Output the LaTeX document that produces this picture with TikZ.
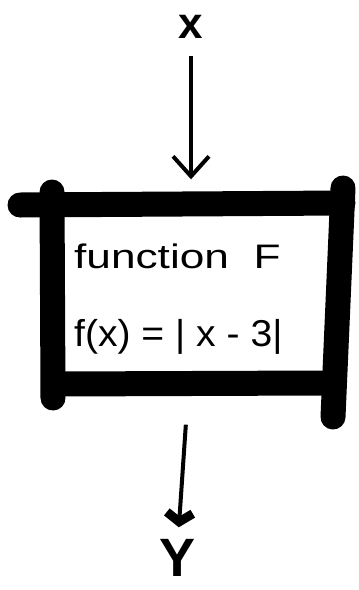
\documentclass[tikz,border=0pt]{standalone}
\usepackage{fontspec}
\setmainfont{Liberation Sans}
\usetikzlibrary{arrows.meta}
\tikzset{
  bar/.style={line width=25pt, line cap=round, line join=round, black},
  handtext/.style={anchor=west, inner sep=0pt, font=\fontsize{34}{38}\selectfont},
  thinarrow/.style={line width=3.5pt, -{Straight Barb[length=20pt,width=36pt,line width=4pt]}},
  thickarrow/.style={line width=4pt, -{Straight Barb[length=9pt,width=26pt,line width=9pt]}}
}
\begin{document}
\begin{tikzpicture}[x=1pt,y=-1pt]
\useasboundingbox (0,0) rectangle (359,590);
% frame
\draw[bar] (20,205) -- (343,203);
\draw[bar] (52,192) -- (53,398);
\draw[bar] (343,188) -- (333,417);
\draw[bar] (58,384) -- (322,383);
\node[minimum width=300pt, minimum height=215pt, inner sep=0pt] (fbox) at (190,300) {};
% texts
\node[handtext] (t1) at (74,256) {\scalebox{1.3}[1]{function\ \ F}};
\node[handtext] (t2) at (74,337) {\scalebox{1.15}[1.1]{f(x) = | x - 3|}};
\node[inner sep=0pt, font=\fontsize{44}{44}\bfseries\selectfont] (xin) at (191,27) {x};
\node[inner sep=0pt, font=\fontsize{54}{54}\bfseries\selectfont] (yout) at (178,558) {Y};
% arrows
\draw[thinarrow, shorten <=17pt, shorten >=13pt] (xin) -- (fbox.north -| xin) ;
\draw[thickarrow, shorten <=17pt, shorten >=12pt] (fbox.south -| 187,0) -- (yout.north);
\end{tikzpicture}
\end{document}
